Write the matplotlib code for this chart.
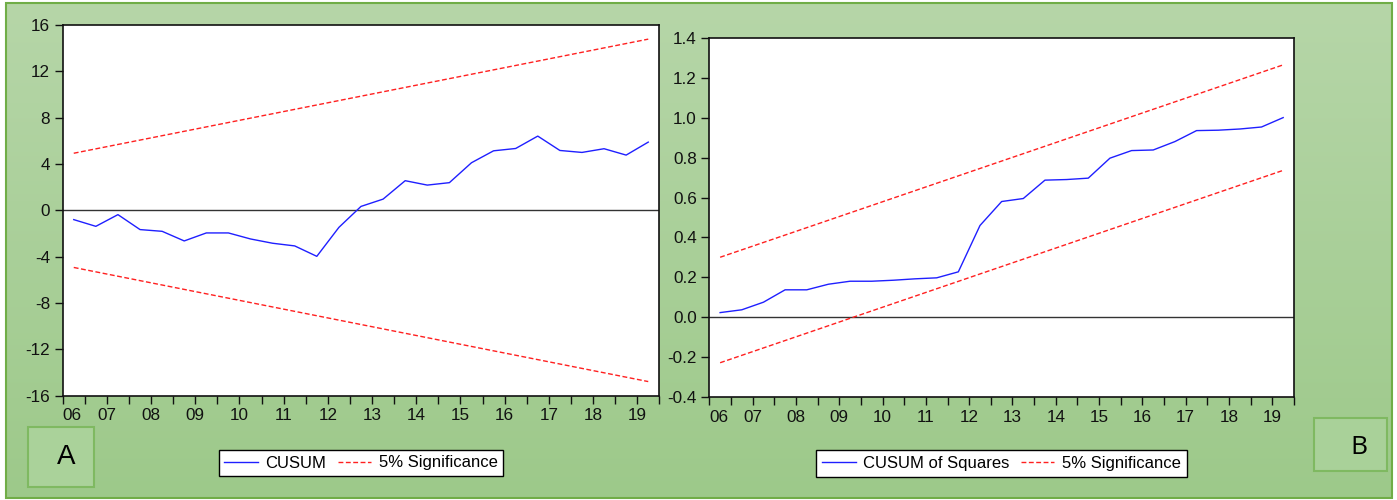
import numpy as np
import matplotlib.pyplot as plt
from matplotlib.colors import LinearSegmentedColormap
from matplotlib.patches import Rectangle

plt.rcParams['font.family'] = ['Liberation Sans', 'DejaVu Sans']

# half-year periods 2006H1..2019H2 start, tick labels on each year
years = ['06', '07', '08', '09', '10', '11', '12', '13', '14', '15', '16', '17', '18', '19']
n_periods = 27

# recursive residual CUSUM
cusum = [-0.80, -1.38, -0.37, -1.66, -1.81, -2.64, -1.95, -1.95, -2.47, -2.84,
         -3.07, -3.97, -1.47, 0.34, 0.97, 2.56, 2.18, 2.39, 4.11, 5.14,
         5.34, 6.41, 5.17, 5.00, 5.32, 4.77, 5.89]
cusum_upper = [4.93, 14.78]
cusum_lower = [-4.93, -14.78]

# CUSUM of squares
cusumsq = [0.024, 0.038, 0.076, 0.138, 0.138, 0.166, 0.181, 0.181, 0.186, 0.193,
           0.198, 0.228, 0.460, 0.580, 0.595, 0.687, 0.690, 0.697, 0.797, 0.835,
           0.838, 0.880, 0.935, 0.937, 0.943, 0.953, 1.000]
cusumsq_upper = [0.301, 1.264]
cusumsq_lower = [-0.227, 0.736]

W, H = 1397, 500
fig = plt.figure(figsize=(W / 100, H / 100), dpi=100, facecolor='white')

# green background panel
bg = fig.add_axes([0, 0, 1, 1], zorder=-10)
bg.set_xlim(0, W)
bg.set_ylim(H, 0)
bg.axis('off')
green = LinearSegmentedColormap.from_list('green', ['#b6d6a8', '#9dc98a'])
bg.imshow(np.linspace(0, 1, 256)[:, None], extent=(6, 1392, 498, 3),
          aspect='auto', cmap=green)
bg.add_patch(Rectangle((6, 3), 1386, 495, fill=False, ec='#70ad47', lw=1.5))
bg.add_patch(Rectangle((28, 427), 66, 60, fc='#aad29a', ec='#7fb961', lw=1.5))
bg.text(66, 457, 'A', fontsize=20, ha='center', va='center')
bg.add_patch(Rectangle((1314, 418), 73, 53, fc='#a9d199', ec='#7fb961', lw=1.5))
bg.text(1359, 448, 'B', fontsize=19, ha='center', va='center', family='Open Sans')

x = np.arange(n_periods) + 0.5
xe = [x[0], x[-1]]
dash = (0, (3.5, 1.8))


def style_axes(ax, yticks, fmt):
    ax.set_xlim(0, n_periods)
    ax.set_xticks(np.arange(n_periods + 1))
    labels = [years[i // 2] if i % 2 == 0 and i // 2 < len(years) else ''
              for i in range(n_periods + 1)]
    ax.set_xticklabels(labels)
    ax.get_xticklabels()[0].set_horizontalalignment('left')
    ax.set_yticks(yticks)
    ax.set_yticklabels([fmt.format(v) for v in yticks])
    ax.set_ylim(yticks[0], yticks[-1])
    ax.tick_params(direction='out', length=5.5, width=1, labelsize=12.3,
                   pad=3.5, colors='#111111')
    for s in ax.spines.values():
        s.set_linewidth(1.2)
        s.set_color('#111111')
    ax.axhline(0, color='#333333', lw=1, zorder=1)


def add_legend(ax, cx, cy):
    leg = ax.legend(loc='center', bbox_to_anchor=(cx / W, 1 - cy / H),
                    bbox_transform=fig.transFigure, ncol=2, fontsize=12,
                    frameon=True, fancybox=False, framealpha=1, edgecolor='black',
                    handlelength=2.0, handletextpad=0.45, columnspacing=0.7,
                    borderpad=0.35, borderaxespad=0)
    leg.get_frame().set_linewidth(1)


# CUSUM
ax1 = fig.add_axes([62.7 / W, 1 - 395.7 / H, (659.3 - 62.7) / W, (395.7 - 25) / H])
ax1.plot(x, cusum, color='#1f1fff', lw=1, label='CUSUM')
ax1.plot(xe, cusum_upper, color='#ff2020', lw=1, ls=dash, label='5% Significance')
ax1.plot(xe, cusum_lower, color='#ff2020', lw=1, ls=dash)
style_axes(ax1, np.arange(-16, 17, 4), '{:.0f}')
add_legend(ax1, 361, 463)

# CUSUM of squares
ax2 = fig.add_axes([709.3 / W, 1 - 397.3 / H, (1294 - 709.3) / W, (397.3 - 37.7) / H])
ax2.plot(x, cusumsq, color='#1f1fff', lw=1, label='CUSUM of Squares')
ax2.plot(xe, cusumsq_upper, color='#ff2020', lw=1, ls=dash, label='5% Significance')
ax2.plot(xe, cusumsq_lower, color='#ff2020', lw=1, ls=dash)
style_axes(ax2, np.round(np.arange(-0.4, 1.41, 0.2), 1), '{:.1f}')
add_legend(ax2, 1001.5, 463.3)

fig.savefig('out.png', dpi=100, facecolor='white')
